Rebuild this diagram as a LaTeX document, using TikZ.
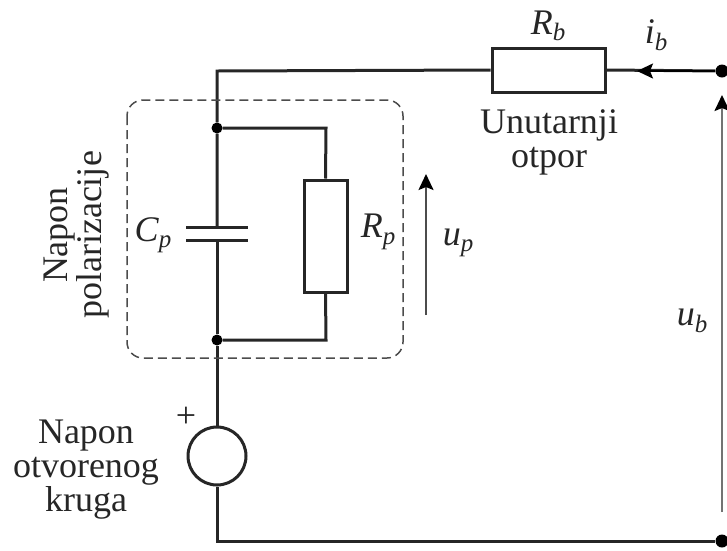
\documentclass[tikz,border=0pt]{standalone}
\usepackage{fontspec}
\setmainfont{Liberation Serif}
\usepackage{tikz}
\usetikzlibrary{arrows.meta}
\newcommand{\quantity}[2]{\textit{#1}\raisebox{-.18em}{\fontsize{25}{25}\selectfont\textit{#2}}}
\tikzset{
	wire/.style = {line width=3pt, draw=black!85},
	tip/.style = {-{Stealth[length=16pt,width=15pt,inset=3pt,black]}, line width=2pt},
	label/.style = {font=\fontsize{36}{34}\selectfont, align=center, text=black!85, inner sep=0pt},
}
\begin{document}
\begin{tikzpicture}[x=1pt, y=-1pt]
\useasboundingbox (0,0) rectangle (727,550);
\tikzstyle{every node} = [circle, fill=black, minimum size=11pt, inner sep=0pt]
\node (top) at (217,128) {};
\node (bot) at (217,340) {};
\node[minimum size=13pt] (tr) at (722,71) {};
\node[minimum size=13pt] (br) at (722,541) {};
\tikzstyle{every node} = [draw=black!85, line width=3pt, fill=white, inner sep=0pt]
\node[rectangle, minimum width=113pt, minimum height=44pt] (Rb) at (548.5,70) {};
\node[rectangle, minimum width=43pt, minimum height=112pt] (Rp) at (325.5,236) {};
\node[circle, minimum size=58pt] (src) at (217,456) {};
\coordinate (tl) at (217,71);
\coordinate (bl) at (217,541);
\coordinate (capu) at (217,227);
\coordinate (capd) at (217,240);
\coordinate (rpu) at (326,128);
\coordinate (rpd) at (326,340);
\coordinate (ibtip) at (637,71);
\coordinate (ubfoot) at (722,512);
\coordinate (ubtip) at (722,95);
\coordinate (upfoot) at (426,315);
\coordinate (uptip) at (426,174);
\draw[wire] (Rb.west) -- (tl) -- (top) -- (capu);
\draw[wire] (capd) -- (bot) -- (src.north);
\draw[wire] (src.south) -- (bl) -- (br);
\draw[wire] (top) -- (rpu) -- (Rp.north);
\draw[wire] (Rp.south) -- (rpd) -- (bot);
\draw[wire] (Rb.east) -- (tr);
\draw[wire] ([xshift=-31pt]capu) -- ([xshift=31pt]capu);
\draw[wire] ([xshift=-31pt]capd) -- ([xshift=31pt]capd);
\draw[tip, draw=black] (tr) -- (ibtip);
\draw[tip, draw=black!55, line width=2.4pt] (ubfoot) -- (ubtip);
\draw[tip, draw=black!70] (upfoot) -- (uptip);
\draw[dashed, dash pattern=on 9pt off 5pt, line width=1.5pt, draw=black!70, rounded corners=16pt] (127,100) rectangle (403,358);
\tikzstyle{every node} = [label]
\node (lRb) at (548,26) {\quantity{R}{b}};
\node (lib) at (656,35) {\quantity{i}{b}};
\node (lRp) at (378,232) {\quantity{R}{p}};
\node (lCp) at (153,235) {\quantity{C}{p}};
\node (lup) at (458,243) {\quantity{u}{p}};
\node (lub) at (692,321) {\quantity{u}{b}};
\node (lint) at (549,142) {Unutarnji\\otpor};
\node[rotate=90] (lpol) at (77,235) {Napon\\polarizacije};
\node (locv) at (86,470) {Napon\\otvorenog\\kruga};
\node (lplus) at (186,417) {+};
\end{tikzpicture}
\end{document}
